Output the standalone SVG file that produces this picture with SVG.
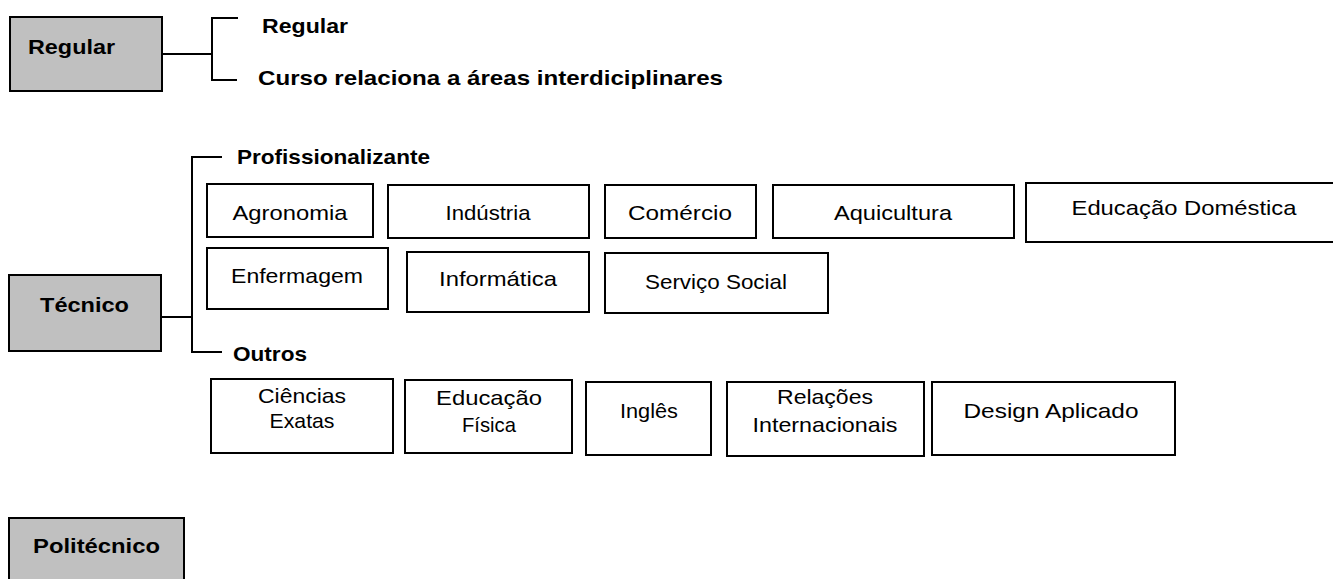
<svg xmlns="http://www.w3.org/2000/svg" width="1333" height="579" viewBox="0 0 1333 579">
<style>
.hd{fill:#c0c0c0;stroke:#000;stroke-width:2}
.bx{fill:#fff;stroke:#000;stroke-width:2}
.b{font-family:"Liberation Sans",Arial,sans-serif;font-weight:bold;font-size:21px;fill:#000}
.r{font-family:"Liberation Sans",Arial,sans-serif;font-size:21px;fill:#000;text-anchor:middle}
.ln{fill:none;stroke:#000;stroke-width:2}
</style>
<rect width="1333" height="579" fill="#fff"/>
<g id="connectors">
<path class="ln" d="M160,54 H212 M238,18 H212 V80 H237"/>
<path class="ln" d="M160,317 H192 M222,157 H192 V352 H222"/>
</g>
<g id="regular"><rect class="hd" x="10" y="17" width="152" height="74"/><text class="b" x="28" y="54" textLength="87" lengthAdjust="spacingAndGlyphs">Regular</text></g>
<g id="regular-sub"><text class="b" x="262" y="33" textLength="86" lengthAdjust="spacingAndGlyphs">Regular</text></g>
<g id="curso"><text class="b" x="258" y="85" textLength="465" lengthAdjust="spacingAndGlyphs">Curso relaciona a áreas interdiciplinares</text></g>
<g id="tecnico"><rect class="hd" x="9" y="275" width="152" height="76"/><text class="b" x="40" y="312" textLength="89" lengthAdjust="spacingAndGlyphs">Técnico</text></g>
<g id="profissionalizante"><text class="b" x="237" y="164" textLength="193" lengthAdjust="spacingAndGlyphs">Profissionalizante</text></g>
<g id="outros"><text class="b" x="233" y="361" textLength="74" lengthAdjust="spacingAndGlyphs">Outros</text></g>
<g id="agronomia"><rect class="bx" x="207" y="184" width="166" height="53"/><text class="r" x="290" y="220" textLength="115" lengthAdjust="spacingAndGlyphs">Agronomia</text></g>
<g id="industria"><rect class="bx" x="388" y="185" width="201" height="53"/><text class="r" x="488" y="220" textLength="85" lengthAdjust="spacingAndGlyphs">Indústria</text></g>
<g id="comercio"><rect class="bx" x="605" y="185" width="151" height="53"/><text class="r" x="680" y="220" textLength="104" lengthAdjust="spacingAndGlyphs">Comércio</text></g>
<g id="aquicultura"><rect class="bx" x="773" y="185" width="241" height="53"/><text class="r" x="893" y="220" textLength="118" lengthAdjust="spacingAndGlyphs">Aquicultura</text></g>
<g id="educacao-domestica"><rect class="bx" x="1026" y="183" width="320" height="59"/><text class="r" x="1184" y="215" textLength="225" lengthAdjust="spacingAndGlyphs">Educação Doméstica</text></g>
<g id="enfermagem"><rect class="bx" x="207" y="248" width="181" height="61"/><text class="r" x="297" y="283" textLength="132" lengthAdjust="spacingAndGlyphs">Enfermagem</text></g>
<g id="informatica"><rect class="bx" x="407" y="252" width="182" height="60"/><text class="r" x="498" y="286" textLength="118" lengthAdjust="spacingAndGlyphs">Informática</text></g>
<g id="servico-social"><rect class="bx" x="605" y="253" width="223" height="60"/><text class="r" x="716" y="289" textLength="142" lengthAdjust="spacingAndGlyphs">Serviço Social</text></g>
<g id="ciencias-exatas"><rect class="bx" x="211" y="379" width="182" height="74"/><text class="r" x="302" y="403" textLength="88" lengthAdjust="spacingAndGlyphs">Ciências</text><text class="r" x="302" y="428" textLength="65" lengthAdjust="spacingAndGlyphs">Exatas</text></g>
<g id="educacao-fisica"><rect class="bx" x="405" y="380" width="167" height="73"/><text class="r" x="489" y="405" textLength="106" lengthAdjust="spacingAndGlyphs">Educação</text><text class="r" x="489" y="432" textLength="54" lengthAdjust="spacingAndGlyphs">Física</text></g>
<g id="ingles"><rect class="bx" x="586" y="382" width="125" height="73"/><text class="r" x="649" y="418" textLength="58" lengthAdjust="spacingAndGlyphs">Inglês</text></g>
<g id="relacoes-internacionais"><rect class="bx" x="727" y="382" width="197" height="74"/><text class="r" x="825" y="404" textLength="96" lengthAdjust="spacingAndGlyphs">Relações</text><text class="r" x="825" y="432" textLength="145" lengthAdjust="spacingAndGlyphs">Internacionais</text></g>
<g id="design-aplicado"><rect class="bx" x="932" y="382" width="243" height="73"/><text class="r" x="1051" y="418" textLength="175" lengthAdjust="spacingAndGlyphs">Design Aplicado</text></g>
<g id="politecnico"><rect class="hd" x="9" y="518" width="175" height="70"/><text class="b" x="33" y="553" textLength="127" lengthAdjust="spacingAndGlyphs">Politécnico</text></g>
</svg>
